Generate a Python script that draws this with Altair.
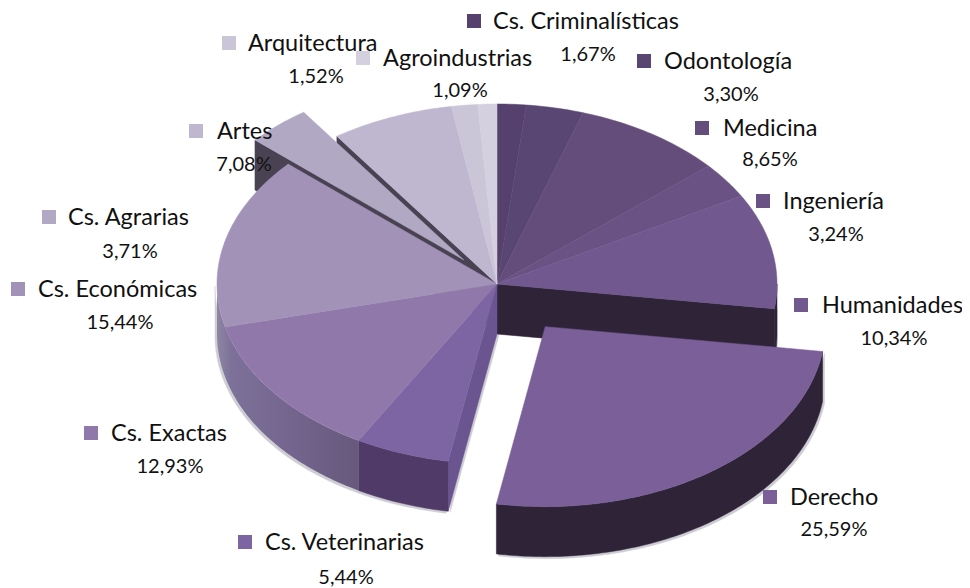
import math
import altair as alt
import pandas as pd

# ---- chart data -------------------------------------------------------
categories = ["Cs. Criminalísticas", "Odontología", "Medicina", "Ingeniería", "Humanidades",
              "Derecho", "Cs. Veterinarias", "Cs. Exactas", "Cs. Económicas", "Cs. Agrarias",
              "Artes", "Arquitectura", "Agroindustrias"]
shares = [1.67, 3.30, 8.65, 3.24, 10.34, 25.59, 5.44, 12.93, 15.44, 3.71, 7.08, 1.52, 1.09]

# ---- styling ----------------------------------------------------------
top_colors = ["#55406e", "#5a4673", "#644d7b", "#6a5284", "#71598f", "#7a5f99", "#7d64a3",
              "#9079aa", "#a392b8", "#b1a8c4", "#bfb6d0", "#cbc5d8", "#d5d0e0"]
# explosion distance per slice (Derecho, Cs. Agrarias)
explode = {"Derecho": 82, "Cs. Agrarias": 50}

# ---- layout of the pie, in picture pixels -------------------------------
CX, CY, RX, RY, DEPTH = 497, 284, 280, 180, 50
W, H = 954, 580
OFF = 8

# square x, y ; name x ; value centre x, y
label_layout = {
    "Cs. Criminalísticas": (474, 21, 493, 588, 55),
    "Odontología": (644, 61, 664, 731, 95),
    "Medicina": (702, 128, 723, 770, 160),
    "Ingeniería": (763, 201, 783, 836, 235),
    "Humanidades": (801, 305, 822, 894, 339),
    "Derecho": (770, 497, 790, 834, 530),
    "Cs. Veterinarias": (245, 542, 265, 346, 578),
    "Cs. Exactas": (91, 433, 111, 170, 467),
    "Cs. Económicas": (18, 289, 38, 120, 323),
    "Cs. Agrarias": (49, 217, 68, 130, 252),
    "Artes": (196, 131, 217, 244, 165),
    "Arquitectura": (229, 43, 248, 316, 77),
    "Agroindustrias": (363, 58, 383, 460, 91),
}


def pt(a, cx=CX, cy=CY, dz=0):
    r = math.radians(a)
    return [cx + RX * math.sin(r), cy - RY * math.cos(r) + dz]


def arc(a0, a1, cx=CX, cy=CY, dz=0):
    n = max(2, int(abs(a1 - a0)) + 2)
    return [pt(a0 + (a1 - a0) * i / (n - 1), cx, cy, dz) for i in range(n)]


def feat(ring, color):
    ring = ring + [ring[0]]
    return {"type": "Feature", "properties": {"color": color},
            "geometry": {"type": "Polygon", "coordinates": [ring]}}


def wall(p, q, color):
    return feat([p, q, [q[0], q[1] + DEPTH], [p[0], p[1] + DEPTH]], color)


def outer_wall(a0, a1, cx, cy, color):
    return feat(arc(a0, a1, cx, cy) + arc(a1, a0, cx, cy, DEPTH), color)


# ---- slice geometry, all derived from the shares -------------------------
angles = {}
acc = 0.0
for name, value in zip(categories, shares):
    angles[name] = (acc * 3.6, (acc + value) * 3.6)
    acc += value


def centre(name):
    a0, a1 = angles[name]
    d = explode.get(name, 0)
    m = math.radians((a0 + a1) / 2)
    return CX + d * math.sin(m), CY - d * RY / RX * math.cos(m)


def wedge(name, color):
    a0, a1 = angles[name]
    cx, cy = centre(name)
    return feat([[cx, cy]] + arc(a0, a1, cx, cy), color)


color_of = dict(zip(categories, top_colors))
back = []
front = []
SHADOW = "#cfcdd4"
wall_dark = "#494252"
wall_night = "#2f2338"

# soft shadow under the outer walls
v0, v1 = angles["Cs. Veterinarias"]
h0, h1 = angles["Humanidades"]
d0, d1 = angles["Derecho"]
dx, dy = centre("Derecho")
back.append(outer_wall(v0, 270, CX - 2, CY + 2, SHADOW))
back.append(wall([CX + 2, CY + 1], pt(v0, CX + 2, CY + 1), SHADOW))
back.append(outer_wall(d0, d1, dx + 2, dy + 2, SHADOW))
back.append(wall([CX + 3, CY], pt(h1, CX + 3, CY), SHADOW))

# the wall behind the exploded slice, then the exploded slice itself
ar0, ar1 = angles["Artes"]
back.append(wall([CX, CY], pt(ar0), wall_dark))
a0, a1 = angles["Cs. Agrarias"]
cx, cy = centre("Cs. Agrarias")
back.append(wall([cx, cy], pt(a0, cx, cy), wall_dark))
back.append(wedge("Cs. Agrarias", color_of["Cs. Agrarias"]))

# walls of the main body
back.append(wall([CX, CY], pt(h1), wall_night))
back.append(outer_wall(90, h1, CX, CY, wall_night))
back.append(wall([CX, CY], pt(v0), "#6a5590"))
back.append(outer_wall(v0, v1, CX, CY, "#503a68"))

# tops of the main body
for name in categories:
    if name not in explode:
        front.append(wedge(name, color_of[name]))

# exploded Derecho in front
front.append(outer_wall(d0, d1, dx, dy, wall_night))
front.append(wedge("Derecho", color_of["Derecho"]))


def shapes(features):
    return alt.Chart(alt.InlineData(values={"type": "FeatureCollection", "features": features},
                                    format=alt.DataFormat(property="features", type="json")))


proj = dict(type="identity", scale=1, translate=[-OFF, -OFF])

back_layer = shapes(back).mark_geoshape(strokeWidth=0.5).encode(
    fill=alt.Fill("properties.color:N", scale=None, legend=None),
    stroke=alt.Stroke("properties.color:N", scale=None, legend=None),
).project(**proj)

# the shaded wall under Cs. Exactas and Cs. Económicas
shaded_wall = shapes([outer_wall(v1, 270, CX, CY, "#000000")]).mark_geoshape(
    stroke=None,
    fill=alt.Gradient(
        gradient="linear", x1=0, x2=1, y1=0, y2=0,
        stops=[alt.GradientStop(offset=0, color="#8e86a4"),
               alt.GradientStop(offset=0.10, color="#7d7199"),
               alt.GradientStop(offset=0.45, color="#756790"),
               alt.GradientStop(offset=1, color="#66597c")],
    ),
).project(**proj)

front_layer = shapes(front).mark_geoshape(strokeWidth=0.5).encode(
    fill=alt.Fill("properties.color:N", scale=None, legend=None),
    stroke=alt.Stroke("properties.color:N", scale=None, legend=None),
).project(**proj)

# ---- labels -------------------------------------------------------------
rows = []
for name, value, color in zip(categories, shares, top_colors):
    sx, sy, tx, vx, vy = label_layout[name]
    rows.append(dict(name=name, value=f"{value:.2f}".replace(".", ",") + "%", color=color,
                     sx=sx, sy=sy, tx=tx, vx=vx, vy=vy))
df = pd.DataFrame(rows)

xs = alt.Scale(domain=[OFF, OFF + W], nice=False, zero=False)
ys = alt.Scale(domain=[OFF, OFF + H], nice=False, zero=False, reverse=True)
FONT = "Lato"

squares = alt.Chart(df).mark_square(size=196, opacity=1, filled=True).encode(
    x=alt.X("sx:Q", scale=xs, axis=None),
    y=alt.Y("sy:Q", scale=ys, axis=None),
    color=alt.Color("color:N", scale=None, legend=None),
)
names = alt.Chart(df).mark_text(align="left", baseline="middle", font=FONT, fontSize=23.5, color="#111111", dy=1).encode(
    x=alt.X("tx:Q", scale=xs, axis=None),
    y=alt.Y("sy:Q", scale=ys, axis=None),
    text="name:N",
)
values = alt.Chart(df).mark_text(align="center", baseline="middle", font=FONT, fontSize=20, color="#111111").encode(
    x=alt.X("vx:Q", scale=xs, axis=None),
    y=alt.Y("vy:Q", scale=ys, axis=None),
    text="value:N",
)

chart = alt.layer(back_layer, shaded_wall, front_layer, squares, names, values).resolve_scale(
    color="independent"
).properties(
    width=W, height=H, padding=0, autosize=alt.AutoSizeParams(type="none"),
    background="white",
).configure_view(stroke=None)

chart.save("out.html", embed_options={"renderer": "svg", "actions": False})
